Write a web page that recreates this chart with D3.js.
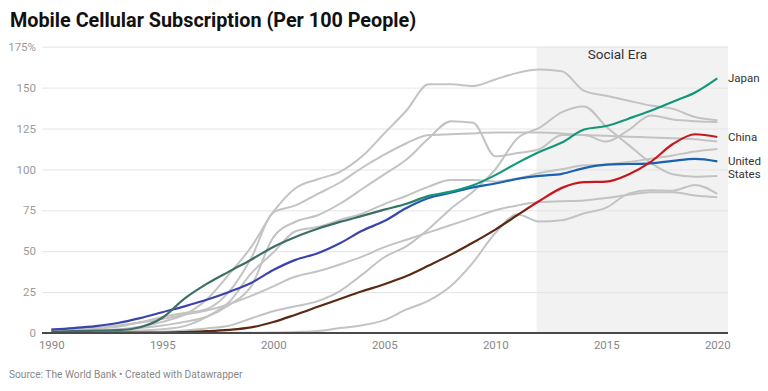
<!DOCTYPE html>
<html>
<head>
<meta charset="utf-8">
<script src="https://cdn.jsdelivr.net/npm/d3@7"></script>
<style>
  body { margin: 0; background: #fff; font-family: Roboto, sans-serif; }
  svg { display: block; }
</style>
</head>
<body>
<div id="chart"></div>
<script>
// Mobile cellular subscriptions per 100 people, 1990-2020
const years = [1990, 1991, 1992, 1993, 1994, 1995, 1996, 1997, 1998, 1999,
  2000, 2001, 2002, 2003, 2004, 2005, 2006, 2007, 2008, 2009,
  2010, 2011, 2012, 2013, 2014, 2015, 2016, 2017, 2018, 2019, 2020];

const japan = [0.7, 1.1, 1.4, 1.7, 3.5, 9.3, 21.0, 30.0, 37.5, 44.8,
  52.6, 58.7, 63.7, 67.9, 71.6, 75.4, 79.0, 83.8, 86.4, 90.3,
  96.5, 104.0, 110.8, 116.4, 124.4, 126.5, 131.0, 135.8, 141.4, 147.0, 155.6];
const china = [0, 0, 0.1, 0.2, 0.3, 0.3, 0.6, 1.1, 1.9, 3.4,
  6.7, 11.2, 16.0, 20.8, 25.5, 29.8, 34.8, 41.2, 47.9, 55.3,
  63.2, 72.1, 80.8, 88.7, 92.2, 92.5, 96.9, 104.6, 115.5, 121.5, 119.8];
const unitedStates = [2.1, 3.0, 4.2, 6.1, 9.1, 12.7, 16.3, 20.3, 25.1, 30.6,
  38.5, 44.7, 48.8, 54.9, 62.5, 68.4, 76.4, 82.5, 85.7, 89.0,
  91.4, 94.2, 96.0, 97.3, 100.8, 102.9, 103.3, 103.7, 105.2, 106.4, 104.9];

const italy = [0.5, 1.0, 1.4, 2.1, 3.8, 6.8, 11.2, 20.5, 35.8, 52.5,
  74.0, 88.5, 94.0, 98.5, 108.0, 122.0, 136.0, 152.0, 152.0, 151.0,
  155.0, 159.0, 161.0, 160.0, 148.0, 145.0, 142.0, 139.0, 137.0, 132.0, 130.0];
const unitedKingdom = [1.9, 2.2, 2.6, 3.8, 6.6, 9.8, 12.2, 14.6, 25.1, 45.7,
  73.7, 78.0, 85.0, 92.0, 101.0, 109.0, 116.0, 121.0, 121.5, 122.0,
  122.5, 122.5, 122.5, 122.0, 121.0, 120.5, 120.0, 119.5, 119.0, 118.5, 117.0];
const germany = [0.3, 0.7, 1.2, 2.2, 3.0, 4.6, 6.8, 9.9, 17.0, 28.5,
  58.5, 68.0, 72.0, 79.0, 88.0, 97.0, 106.0, 119.0, 129.5, 128.5,
  108.0, 110.0, 112.5, 121.0, 121.0, 117.0, 124.0, 133.0, 130.5, 129.5, 129.0];
const france = [0.5, 0.7, 0.8, 0.9, 1.5, 2.3, 4.2, 9.9, 18.8, 36.4,
  49.2, 62.2, 64.8, 69.1, 73.0, 78.8, 83.9, 89.5, 93.5, 93.5,
  92.5, 94.5, 97.8, 100.1, 102.5, 103.0, 104.5, 106.5, 108.5, 111.0, 112.5];
const canada = [2.1, 2.7, 3.6, 4.6, 6.4, 8.6, 11.2, 13.7, 17.6, 22.7,
  28.5, 34.5, 37.7, 41.9, 46.7, 52.5, 57.0, 61.5, 66.0, 70.5,
  75.0, 78.0, 80.0, 80.5, 81.0, 82.5, 84.5, 86.0, 86.0, 84.0, 83.0];
const brazil = [0, 0, 0, 0.2, 0.5, 0.8, 1.6, 2.8, 4.4, 8.9,
  13.3, 16.3, 19.5, 25.6, 35.7, 46.3, 53.1, 63.6, 76.0, 86.5,
  100.0, 119.0, 125.5, 135.0, 138.5, 126.0, 115.0, 104.0, 97.0, 95.5, 96.0];
const india = [0, 0, 0, 0, 0, 0, 0, 0.1, 0.1, 0.2,
  0.3, 0.6, 1.2, 3.0, 4.7, 7.9, 14.4, 19.8, 28.7, 43.2,
  61.1, 72.4, 68.1, 68.9, 73.2, 76.6, 85.2, 87.3, 87.0, 90.5, 85.0];

const yTicks = [0, 25, 50, 75, 100, 125, 150, 175];
const xTicks = [1990, 1995, 2000, 2005, 2010, 2015, 2020];
const socialEraStart = 2011.86;

const grayCountries = [italy, unitedKingdom, germany, france, canada, brazil, india];
const highlighted = [
  {id: 'us', name: ['United', 'States'], values: unitedStates, early: '#3b43ad', late: '#1a62b0', from: 2005, to: 2007.5},
  {id: 'cn', name: ['China'], values: china, early: '#5b2a12', late: '#c8161d', from: 2011.3, to: 2011.6},
  {id: 'jp', name: ['Japan'], values: japan, early: '#3d6e66', late: '#12977a', from: 2005, to: 2007.5},
];

const width = 768, height = 391;
const svg = d3.select('#chart').append('svg')
  .attr('width', width)
  .attr('height', height);

const x = d3.scaleLinear().domain([1990, 2020]).range([51.3, 717.3]);
const y = d3.scaleLinear().domain([0, 175]).range([333, 46.7]);
const left = 42, right = 728;

// title
svg.append('text')
  .attr('x', 10).attr('y', 27)
  .style('font-size', '19.8px')
  .style('font-weight', 700)
  .style('fill', '#111')
  .text('Mobile Cellular Subscription (Per 100 People)');

// social era shade
svg.append('rect')
  .attr('x', x(socialEraStart))
  .attr('y', y(175))
  .attr('width', right - x(socialEraStart))
  .attr('height', y(0) - y(175))
  .attr('fill', '#f2f2f2');

svg.append('text')
  .attr('x', x(2015.5)).attr('y', 59)
  .attr('text-anchor', 'middle')
  .style('font-size', '13.5px')
  .style('fill', '#333')
  .text('Social Era');

// y grid + labels
svg.append('g')
  .attr('transform', 'translate(' + left + ',0)')
  .call(d3.axisLeft(y)
    .tickValues(yTicks)
    .tickSize(-(right - left))
    .tickPadding(6)
    .tickFormat(d => d === 175 ? d + '%' : d))
  .call(g => g.select('.domain').remove())
  .call(g => g.selectAll('.tick line').attr('stroke', '#e5e5e5'))
  .call(g => g.selectAll('.tick text')
    .style('font-family', 'Roboto, sans-serif')
    .style('font-size', '11.5px')
    .attr('fill', '#9a9a9a'));

// x labels
svg.append('g')
  .attr('transform', 'translate(0,' + y(0) + ')')
  .call(d3.axisBottom(x)
    .tickValues(xTicks)
    .tickSize(0)
    .tickPadding(7.5)
    .tickFormat(d3.format('d')))
  .call(g => g.select('.domain').remove())
  .call(g => g.selectAll('.tick text')
    .style('font-family', 'Roboto, sans-serif')
    .style('font-size', '11.5px')
    .attr('fill', '#888'));

const line = d3.line()
  .x((d, i) => x(years[i]))
  .y(d => y(d))
  .curve(d3.curveMonotoneX);

// gray countries
svg.append('g')
  .selectAll('path')
  .data(grayCountries)
  .join('path')
  .attr('fill', 'none')
  .attr('stroke', '#c3c3c3')
  .attr('stroke-width', 2)
  .attr('stroke-linejoin', 'round')
  .attr('d', line);

// gradients for highlighted lines
const defs = svg.append('defs');
highlighted.forEach(s => {
  const grad = defs.append('linearGradient')
    .attr('id', 'grad-' + s.id)
    .attr('gradientUnits', 'userSpaceOnUse')
    .attr('x1', x(1990)).attr('x2', x(2020))
    .attr('y1', 0).attr('y2', 0);
  grad.append('stop').attr('offset', (s.from - 1990) / 30).attr('stop-color', s.early);
  grad.append('stop').attr('offset', (s.to - 1990) / 30).attr('stop-color', s.late);
});

svg.append('g')
  .selectAll('path')
  .data(highlighted)
  .join('path')
  .attr('fill', 'none')
  .attr('stroke', d => 'url(#grad-' + d.id + ')')
  .attr('stroke-width', 2.2)
  .attr('stroke-linejoin', 'round')
  .attr('d', d => line(d.values));

// baseline
svg.append('line')
  .attr('x1', left).attr('x2', right)
  .attr('y1', y(0)).attr('y2', y(0))
  .attr('stroke', '#4a4a4a')
  .attr('stroke-width', 2);

// line labels
highlighted.forEach(s => {
  const t = svg.append('text')
    .attr('x', right)
    .attr('y', y(s.values[s.values.length - 1]))
    .style('font-size', '11.5px')
    .style('fill', '#333');
  s.name.forEach((n, i) => {
    t.append('tspan')
      .attr('x', right)
      .attr('dy', i === 0 ? '0.35em' : '1.1em')
      .text(n);
  });
});

// footer
svg.append('text')
  .attr('x', 9).attr('y', 378)
  .style('font-size', '10.2px')
  .style('fill', '#888')
  .text('Source: The World Bank • Created with Datawrapper');
</script>
</body>
</html>
